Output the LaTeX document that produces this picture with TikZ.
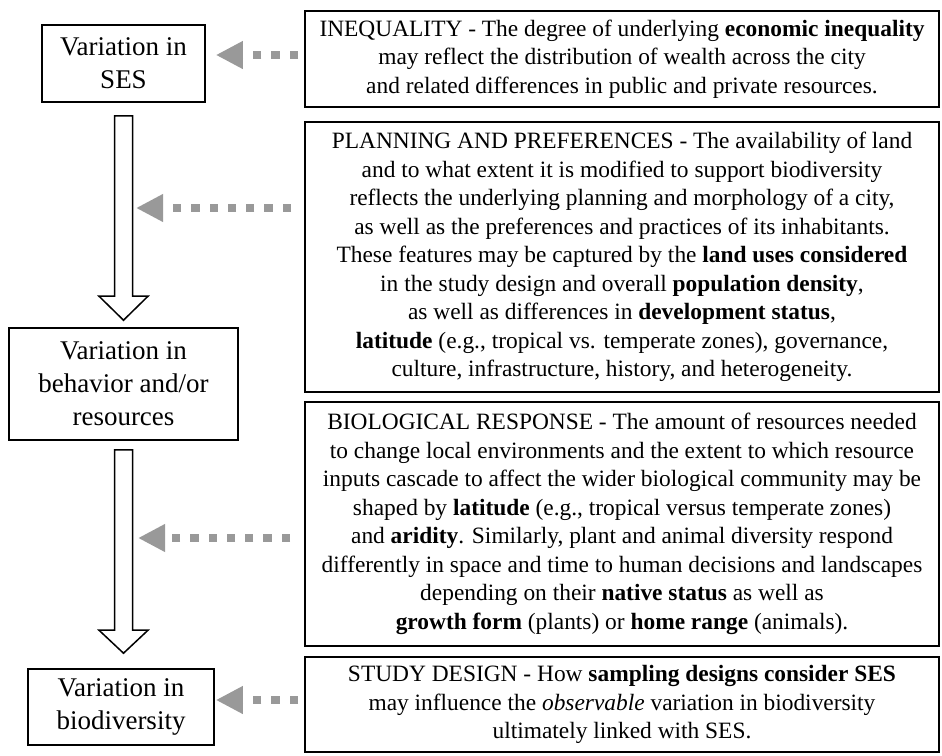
\documentclass[tikz,border=0pt]{standalone}
\usepackage{fontspec}
\setmainfont{Liberation Serif}
\usetikzlibrary{arrows.meta,calc}
\definecolor{arrgray}{gray}{0.6}

\begin{document}
\begin{tikzpicture}[x=1pt,y=-1pt,
  leftbox/.style={draw, line width=1.6pt, align=center, inner sep=0pt,
    font=\fontsize{27}{33}\selectfont},
  rightbox/.style={draw, line width=1.6pt, align=center, inner sep=0pt,
    minimum width=634pt, font=\fontsize{23.4}{28.5}\selectfont},
  bigarrow/.style={draw, line width=1.5pt, fill=white, line join=miter},
  dotarrow/.style={arrgray, line width=8pt, dash pattern=on 8.3pt off 10pt,
    -{Triangle[length=27pt,width=26pt]}}]
\useasboundingbox (0,0) rectangle (942,755);
% left column
\node[leftbox, minimum width=163pt, minimum height=77pt] (ses) at (123.5,63.5) {Variation in\\SES};
\node[leftbox, minimum width=229pt, minimum height=112pt] (beh) at (123.5,384) {Variation in\\behavior and/or\\resources};
\node[leftbox, minimum width=186pt, minimum height=76pt] (bio) at (121,707) {Variation in\\biodiversity};
% right column
\node[rightbox, minimum height=96pt] (ineq) at (622,59) {INEQUALITY - The degree of underlying \textbf{economic inequality}\\
  may reflect the distribution of wealth across the city\\
  and related differences in public and private resources.};
\node[rightbox, minimum height=270pt] (plan) at (622,257) {PLANNING AND PREFERENCES - The availability of land\\
  and to what extent it is modified to support biodiversity\\
  reflects the underlying planning and morphology of a city,\\
  as well as the preferences and practices of its inhabitants.\\
  These features may be captured by the \textbf{land uses considered}\\
  in the study design and overall \textbf{population density},\\
  as well as differences in \textbf{development status},\\
  \textbf{latitude} (e.g., tropical vs. temperate zones), governance,\\
  culture, infrastructure, history, and heterogeneity.};
\node[rightbox, minimum height=244pt] (resp) at (622,524) {BIOLOGICAL RESPONSE - The amount of resources needed\\
  to change local environments and the extent to which resource\\
  inputs cascade to affect the wider biological community may be\\
  shaped by \textbf{latitude} (e.g., tropical versus temperate zones)\\
  and \textbf{aridity}. Similarly, plant and animal diversity respond\\
  differently in space and time to human decisions and landscapes\\
  depending on their \textbf{native status} as well as\\
  \textbf{growth form} (plants) or \textbf{home range} (animals).};
\node[rightbox, minimum height=95pt] (design) at (622,704.5) {STUDY DESIGN - How \textbf{sampling designs consider SES}\\
  may influence the \textit{observable} variation in biodiversity\\
  ultimately linked with SES.};
% hollow arrows
\draw[bigarrow] let \p1=(ses.south), \p2=(beh.north) in
  (\x1-9pt,\y1-13pt) -- (\x1+9pt,\y1-13pt) -- (\x1+9pt,\y2+31pt) -- (\x1+24.5pt,\y2+31pt)
  -- (\x1,\y2+7pt) -- (\x1-24.5pt,\y2+31pt) -- (\x1-9pt,\y2+31pt) -- cycle;
\draw[bigarrow] let \p1=(beh.south), \p2=(bio.north) in
  (\x1-9pt,\y1-9pt) -- (\x1+9pt,\y1-9pt) -- (\x1+9pt,\y2+38pt) -- (\x1+24.5pt,\y2+38pt)
  -- (\x1,\y2+15pt) -- (\x1-24.5pt,\y2+38pt) -- (\x1-9pt,\y2+38pt) -- cycle;
% dotted arrows
\coordinate (d1) at (298,55);
\coordinate (d2) at (291,208);
\coordinate (d3) at (290,538);
\coordinate (d4) at (298,700);
\coordinate (aim2) at (136,208);
\coordinate (aim3) at (138,538);
\draw[dotarrow, shorten >=10pt] (d1) -- (d1 -| ses.east);
\draw[dotarrow] (d2) -- (aim2);
\draw[dotarrow] (d3) -- (aim3);
\draw[dotarrow, shorten >=1pt] (d4) -- (d4 -| bio.east);
\end{tikzpicture}
\end{document}
